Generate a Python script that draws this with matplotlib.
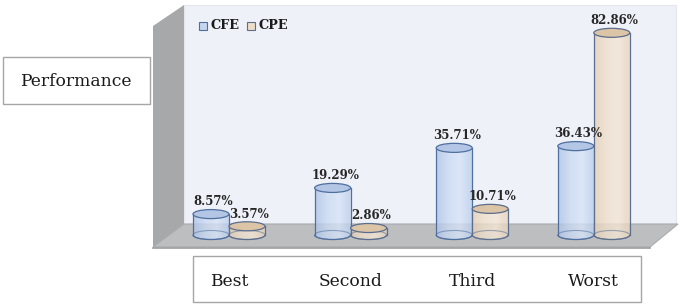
import numpy as np
import matplotlib
matplotlib.use("Agg")
import matplotlib.pyplot as plt
import matplotlib.transforms as mtransforms
from matplotlib.patches import Rectangle, Ellipse, Polygon, Arc
from matplotlib.colors import LinearSegmentedColormap

# ---- data ----
categories = ["Best", "Second", "Third", "Worst"]
series_names = ["CFE", "CPE"]
cfe_values = [8.57, 19.29, 35.71, 36.43]
cpe_values = [3.57, 2.86, 10.71, 82.86]
axis_title = "Performance"

# ---- figure ----
W, H = 685, 305
fig = plt.figure(figsize=(W / 100, H / 100), dpi=100)
fig.patch.set_facecolor("white")

# background axes in pixel coordinates (decorations only)
bg = fig.add_axes([0, 0, 1, 1])
bg.set_xlim(0, W)
bg.set_ylim(H, 0)
bg.axis("off")

back_c = "#eff1f8"
side_c = "#a7a8aa"
floor_c = "#bdbec0"
bg.add_patch(Polygon([(184, 5), (676, 5), (676, 224), (184, 224)], closed=True,
                     facecolor=back_c, edgecolor="#e4e6ec", lw=0.8, zorder=1))
bg.add_patch(Polygon([(153, 26), (184, 5), (184, 224), (153, 247)], closed=True,
                     facecolor=side_c, edgecolor="none", zorder=2))
bg.add_patch(Polygon([(153, 247), (184, 224), (678, 224), (650, 247)], closed=True,
                     facecolor=floor_c, edgecolor="#a9aaad", lw=0.8, zorder=2))
bg.plot([153, 650], [247.5, 247.5], color="#9c9da0", lw=1.2, zorder=3)

# Performance box
bg.add_patch(Rectangle((3, 57), 147, 47, facecolor="white", edgecolor="#a6a6a6", lw=1.0, zorder=2))
bg.text(76, 81, axis_title, ha="center", va="center", fontsize=12.3,
        family="DejaVu Serif", color="#1a1a1a", zorder=3)

# categories box
bg.add_patch(Rectangle((193, 256), 448, 46, facecolor="white", edgecolor="#a6a6a6", lw=1.0, zorder=2))

# ---- data axes (mapping: x px = 229 + 121.6*i ; y px = 235 - 2.44*v) ----
px_left, px_right, px_top, px_bot = 153, 668, 5, 247
ax = fig.add_axes([px_left / W, (H - px_bot) / H, (px_right - px_left) / W, (px_bot - px_top) / H])
ax.patch.set_alpha(0)
ax.axis("off")
x0, dx = 229.0, 121.6
y0, dy = 235.0, 2.44
XL = ((px_left - x0) / dx, (px_right - x0) / dx)
YL = ((y0 - px_bot) / dy, (y0 - px_top) / dy)
ax.set_xlim(*XL)
ax.set_ylim(*YL)

bar_w = 0.296
ell_h = 3.7
offsets = [-bar_w / 2, bar_w / 2]
styles = [
    dict(cmap=LinearSegmentedColormap.from_list("b", ["#b0c4e6", "#c9d9f2", "#d7e4f8", "#bccfed"]),
         top="#b4c6e5", edge="#4f6f9e", leg="#c6d6ef"),
    dict(cmap=LinearSegmentedColormap.from_list("o", ["#e4cfb5", "#efdfcc", "#f4e6d6", "#e8d4bc"]),
         top="#dcc4a6", edge="#5b6e8e", leg="#ecdcc8"),
]
grad = np.linspace(0, 1, 64).reshape(1, -1)
t = np.linspace(np.pi, 2 * np.pi, 40)

for i, cat in enumerate(categories):
    for s, vals in enumerate([cfe_values, cpe_values]):
        v = vals[i]
        st = styles[s]
        cx = i + offsets[s]
        zb = 10 + i * 10 + s * 5
        # body outline: left side, bottom front arc, right side
        xs = np.concatenate([[cx - bar_w / 2], cx + bar_w / 2 * np.cos(t), [cx + bar_w / 2]])
        ys = np.concatenate([[v], ell_h / 2 * np.sin(t), [v]])
        body = Polygon(np.column_stack([xs, ys]), closed=True, facecolor="none",
                       edgecolor="none", zorder=zb)
        ax.add_patch(body)
        im = ax.imshow(grad, cmap=st["cmap"], extent=(cx - bar_w / 2, cx + bar_w / 2, -ell_h / 2, v),
                       aspect="auto", alpha=0.8, zorder=zb, interpolation="bilinear")
        im.set_clip_path(body)
        # full bottom ellipse outline visible through transparent body
        ax.add_patch(Ellipse((cx, 0), bar_w, ell_h, facecolor="none", edgecolor=st["edge"],
                             lw=0.8, alpha=0.55, zorder=zb + 1))
        ax.add_patch(Arc((cx, 0), bar_w, ell_h, theta1=180, theta2=360, color=st["edge"],
                         lw=0.9, zorder=zb + 2))
        ax.plot([cx - bar_w / 2] * 2, [0, v], color=st["edge"], lw=0.9, zorder=zb + 2)
        ax.plot([cx + bar_w / 2] * 2, [0, v], color=st["edge"], lw=0.9, zorder=zb + 2)
        # top ellipse
        ax.add_patch(Ellipse((cx, v), bar_w, ell_h, facecolor=st["top"], edgecolor=st["edge"],
                             lw=0.9, zorder=zb + 3))
        # value label
        ax.text(cx + 0.02, v + 5.0, f"{v:.2f}%", ha="center", va="center", fontsize=8.5,
                family="DejaVu Serif", fontweight="bold", color="#262626", zorder=100)
    # category label
    tr = mtransforms.blended_transform_factory(ax.transData, fig.transFigure)
    ax.text(i, (H - 281) / H, cat, ha="center", va="center", fontsize=12.3,
            family="DejaVu Serif", color="#1a1a1a", transform=tr, zorder=100)

ax.set_xlim(*XL)
ax.set_ylim(*YL)

# legend
legend_x = [199, 247]
for s, name in enumerate(series_names):
    bg.add_patch(Rectangle((legend_x[s], 21.5), 8, 8, facecolor=styles[s]["leg"],
                           edgecolor=styles[s]["edge"], lw=0.8, zorder=5))
    bg.text(legend_x[s] + 12, 25.5, name, ha="left", va="center", fontsize=9.3,
            family="DejaVu Serif", fontweight="bold", color="#1a1a1a", zorder=5)

fig.savefig("out.png", dpi=100, facecolor="white")
